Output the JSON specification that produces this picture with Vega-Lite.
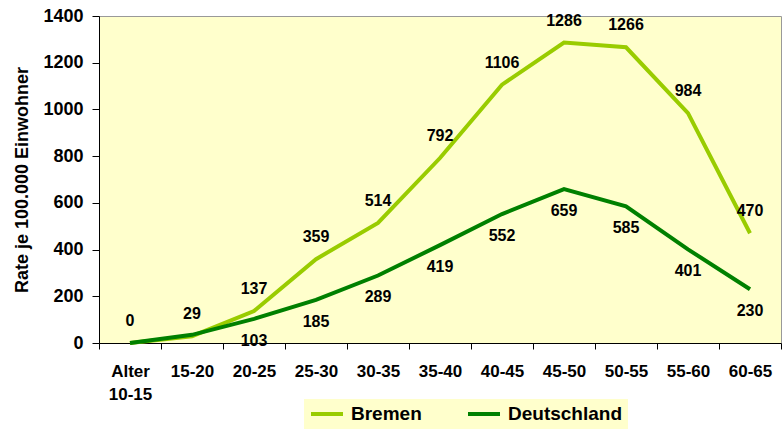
{
  "$schema": "https://vega.github.io/schema/vega-lite/v6.json",
  "width": 682,
  "height": 327,
  "autosize": {"type": "none"},
  "padding": {"left": 99, "top": 16, "right": 3, "bottom": 87},
  "background": "white",
  "config": {
    "font": "Liberation Sans",
    "view": {"fill": "#FFFFCC", "stroke": "#999999", "strokeWidth": 1},
    "axis": {"grid": false, "domainColor": "#000000", "tickColor": "#000000", "labelColor": "#000000", "titleColor": "#000000", "labelFont": "Liberation Sans", "titleFont": "Liberation Sans"}
  },
  "data": {
    "values": [
      {"alter": "Alter 10-15", "gebiet": "Bremen", "rate": 0},
      {"alter": "15-20", "gebiet": "Bremen", "rate": 29},
      {"alter": "20-25", "gebiet": "Bremen", "rate": 137},
      {"alter": "25-30", "gebiet": "Bremen", "rate": 359},
      {"alter": "30-35", "gebiet": "Bremen", "rate": 514},
      {"alter": "35-40", "gebiet": "Bremen", "rate": 792},
      {"alter": "40-45", "gebiet": "Bremen", "rate": 1106},
      {"alter": "45-50", "gebiet": "Bremen", "rate": 1286},
      {"alter": "50-55", "gebiet": "Bremen", "rate": 1266},
      {"alter": "55-60", "gebiet": "Bremen", "rate": 984},
      {"alter": "60-65", "gebiet": "Bremen", "rate": 470},
      {"alter": "Alter 10-15", "gebiet": "Deutschland", "rate": 0},
      {"alter": "15-20", "gebiet": "Deutschland", "rate": 35},
      {"alter": "20-25", "gebiet": "Deutschland", "rate": 103},
      {"alter": "25-30", "gebiet": "Deutschland", "rate": 185},
      {"alter": "30-35", "gebiet": "Deutschland", "rate": 289},
      {"alter": "35-40", "gebiet": "Deutschland", "rate": 419},
      {"alter": "40-45", "gebiet": "Deutschland", "rate": 552},
      {"alter": "45-50", "gebiet": "Deutschland", "rate": 659},
      {"alter": "50-55", "gebiet": "Deutschland", "rate": 585},
      {"alter": "55-60", "gebiet": "Deutschland", "rate": 401},
      {"alter": "60-65", "gebiet": "Deutschland", "rate": 230}
    ]
  },
  "encoding": {
    "x": {
      "field": "alter",
      "type": "ordinal",
      "sort": null,
      "bandPosition": 0.5,
      "scale": {"type": "band", "paddingInner": 0, "paddingOuter": 0},
      "axis": {
        "title": null,
        "labelAngle": 0,
        "tickBand": "extent",
        "tickSize": 6,
        "labelPadding": 14,
        "labelFontSize": 17,
        "labelFontWeight": "bold",
        "labelLineHeight": 23,
        "labelBaseline": "top",
        "labelExpr": "datum.value == 'Alter 10-15' ? ['Alter', '10-15'] : datum.value"
      }
    },
    "y": {
      "field": "rate",
      "type": "quantitative",
      "scale": {"domain": [0, 1400], "nice": false},
      "axis": {
        "title": "Rate je 100.000 Einwohner",
        "values": [0, 200, 400, 600, 800, 1000, 1200, 1400],
        "format": "d",
        "tickSize": 7,
        "labelPadding": 9,
        "labelFontSize": 18,
        "labelFontWeight": "bold",
        "titleFontSize": 18,
        "titleFontWeight": "bold",
        "titlePadding": 11
      }
    }
  },
  "layer": [
    {
      "mark": {"type": "line", "strokeWidth": 4},
      "encoding": {
        "color": {
          "field": "gebiet",
          "type": "nominal",
          "scale": {"domain": ["Bremen", "Deutschland"], "range": ["#99CC00", "#008000"]},
          "legend": {
            "title": null,
            "orient": "none",
            "direction": "horizontal",
            "legendX": 205,
            "legendY": 383,
            "fillColor": "#FFFFCC",
            "padding": 5,
            "clipHeight": 20,
            "symbolType": "stroke",
            "symbolSize": 1024,
            "symbolStrokeWidth": 4,
            "labelFontSize": 19,
            "labelFontWeight": "bold",
            "labelColor": "#000000",
            "labelOffset": 6,
            "columnPadding": 44,
            "labelLimit": 300
          }
        }
      }
    },
    {
      "transform": [{"filter": "datum.gebiet == 'Bremen'"}],
      "mark": {"type": "text", "dy": -22, "fontSize": 16, "fontWeight": "bold", "color": "#000000"},
      "encoding": {"text": {"field": "rate", "type": "quantitative"}}
    },
    {
      "transform": [{"filter": "datum.gebiet == 'Deutschland' && datum.rate > 50"}],
      "mark": {"type": "text", "dy": 22, "fontSize": 16, "fontWeight": "bold", "color": "#000000"},
      "encoding": {"text": {"field": "rate", "type": "quantitative"}}
    }
  ]
}
